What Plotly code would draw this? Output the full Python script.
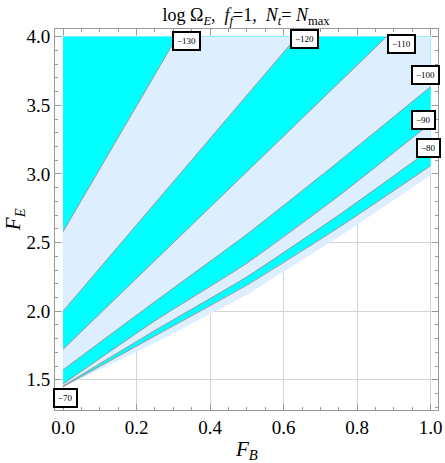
import plotly.graph_objects as go

# contour levels of log Omega_E and their lines as (F_B, F_E) points
levels = [-130, -120, -110, -100, -90, -80, -70]
line_fb = [
    [0.0, 0.31],
    [0.0, 0.636],
    [0.0, 0.88],
    [0.0, 0.25, 0.5, 0.75, 1.0],
    [0.0, 0.25, 0.5, 0.75, 1.0],
    [0.0, 0.25, 0.5, 0.75, 1.0],
    [0.0, 0.25, 0.5, 0.75, 1.0],
]
line_fe = [
    [2.58, 4.0],
    [2.0, 4.0],
    [1.723, 4.0],
    [1.573, 2.07, 2.56, 3.09, 3.636],
    [1.47, 1.93, 2.35, 2.84, 3.37],
    [1.455, 1.86, 2.25, 2.70, 3.18],
    [1.45, 1.82, 2.19, 2.61, 3.06],
]
# lower edge of the region where the quantity is defined
edge_fb = [0.0, 0.25, 0.5, 0.75, 1.0]
edge_fe = [1.445, 1.77, 2.12, 2.54, 2.99]

# label positions (F_B, F_E)
label_fb = [0.337, 0.657, 0.92, 0.985, 0.98, 0.993, 0.007]
label_fe = [3.97, 3.98, 3.95, 3.72, 3.39, 3.19, 1.37]

fb_max, fe_max = 1.0, 4.0
cyan = '#00FFFF'
light = '#DDEEFF'


def region_above(xs, ys):
    # close a line with the top-left part of the domain
    px, py = list(xs), list(ys)
    if py[-1] < fe_max:
        px.append(fb_max)
        py.append(fe_max)
    px += [0.0, px[0]]
    py += [fe_max, py[0]]
    return px, py


fig = go.Figure()

x, y = region_above(edge_fb, edge_fe)
fig.add_trace(go.Scatter(x=x, y=y, fill='toself', fillcolor=light, mode='lines',
                         line=dict(width=0), hoverinfo='skip', showlegend=False))
# fill from the lowest level upwards, alternating colours
for i in range(len(levels) - 1, -1, -1):
    x, y = region_above(line_fb[i], line_fe[i])
    col = cyan if i % 2 == 0 else light
    fig.add_trace(go.Scatter(x=x, y=y, fill='toself', fillcolor=col, mode='lines',
                             line=dict(width=0), hoverinfo='skip', showlegend=False))

for i in range(len(levels)):
    fig.add_trace(go.Scatter(x=line_fb[i], y=line_fe[i], mode='lines',
                             line=dict(color='#9a9a9a', width=1, shape='spline', smoothing=0.6),
                             hoverinfo='skip', showlegend=False))

for lv, lx, ly in zip(levels, label_fb, label_fe):
    fig.add_annotation(x=lx, y=ly, text=f"\u2212{abs(lv)}", showarrow=False,
                       font=dict(family='Liberation Serif', size=9, color='black'),
                       bgcolor='white', bordercolor='black', borderwidth=2, borderpad=3)

axis_common = dict(
    showline=True, linecolor='#999999', linewidth=1, mirror='ticks',
    ticks='inside', ticklen=6, tickcolor='#999999', automargin=False,
    showgrid=True, gridcolor='#d4d4d4', gridwidth=1, zeroline=False,
    tickfont=dict(family='Liberation Serif', size=19, color='black'),
)

fig.update_xaxes(range=[-0.022, 1.02], dtick=0.2, tickformat='.1f',
                 minor=dict(ticks='inside', ticklen=3, dtick=0.05, tickcolor='#999999', showgrid=False),
                 **axis_common)
fig.update_yaxes(range=[1.28, 4.056], tick0=1.5, dtick=0.5, tickformat='.1f',
                 minor=dict(ticks='inside', ticklen=3, dtick=0.1, tickcolor='#999999', showgrid=False),
                 **axis_common)

fig.add_annotation(x=0.5, y=-0.105, xref='paper', yref='paper', showarrow=False,
                   text='<i>F<sub>B</sub></i>', xanchor='center', yanchor='middle',
                   font=dict(family='Liberation Serif', size=21, color='black'))
fig.add_annotation(x=-0.108, y=0.5, xref='paper', yref='paper', showarrow=False, textangle=-90,
                   text='<i>F<sub>E</sub></i>', xanchor='center', yanchor='middle',
                   font=dict(family='Liberation Serif', size=21, color='black'))

fig.update_layout(
    width=445, height=463,
    margin=dict(l=55, r=7, t=29, b=53),
    paper_bgcolor='white', plot_bgcolor='white',
    title=dict(text='log \u03a9<sub><i>E</i></sub>,  <i>f<sub>f</sub></i>=1,  <i>N<sub>t</sub></i>= <i>N</i><sub>max</sub>',
               x=0.553, xanchor='center', y=0.968, yanchor='middle',
               font=dict(family='Liberation Serif', size=18, color='black')),
)

# the page's default body margin would shift the figure by 8px
fig.write_html("out.html", config={'displayModeBar': False},
               post_script="document.body.style.margin='0';document.body.style.overflow='hidden';")
